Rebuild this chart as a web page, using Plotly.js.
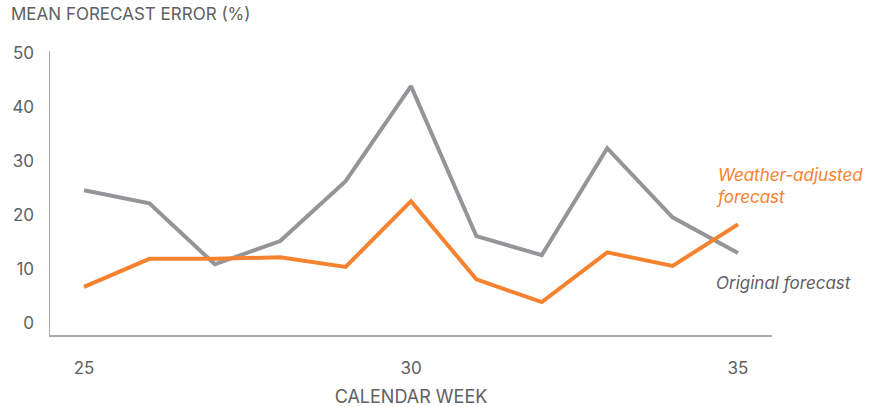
<!DOCTYPE html>
<html><head><meta charset="utf-8">
<script src="https://cdn.plot.ly/plotly-3.0.1.min.js"></script>
<style>html,body{margin:0;padding:0;background:#fff}#c{width:878px;height:407px}</style>
</head><body><div id="c"></div>
<script>
const weeks = [25,26,27,28,29,30,31,32,33,34,35];
const original = [24.6,22.2,10.9,15.2,26.3,43.9,16.1,12.6,32.4,19.6,13.0];
const adjusted = [6.7,11.9,11.9,12.2,10.4,22.6,8.1,3.9,13.1,10.6,18.3];
const xTicks = [25,30,35];
const yTicks = [0,10,20,30,40,50];
const txt = '#5f6062';
const font = 'Inter, "Noto Sans", sans-serif';
const data = [
  {x: weeks, y: original, type:'scatter', mode:'lines', line:{color:'#939598', width:4}, hoverinfo:'skip'},
  {x: weeks, y: adjusted, type:'scatter', mode:'lines', line:{color:'#F5822F', width:4}, hoverinfo:'skip'}
];
const layout = {
  width:878, height:407, showlegend:false,
  paper_bgcolor:'#fff', plot_bgcolor:'#fff',
  margin:{l:50, r:106, t:51, b:72},
  font:{family:font, color:txt, size:17},
  xaxis:{range:[24.48,35.52], tickvals:xTicks, ticktext:xTicks.map(String), showgrid:false, zeroline:false,
    showline:true, linecolor:'#a7a9ac', linewidth:1.5, ticks:'', ticklabelstandoff:17,
    tickfont:{size:17, color:txt},
    title:{text:'CALENDAR WEEK', font:{size:18, color:txt}, standoff:14}},
  yaxis:{range:[-2.2,50.4], tickvals:yTicks, showgrid:false, zeroline:false,
    showline:true, linecolor:'#a7a9ac', linewidth:1.5, ticks:'', ticklabelstandoff:11,
    tickfont:{size:17, color:txt}},
  annotations:[
    {xref:'paper', yref:'paper', x:-0.057, y:1.0, yshift:25, xanchor:'left', yanchor:'bottom', showarrow:false,
     text:'MEAN FORECAST ERROR (%)', font:{size:17, color:txt}},
    {xref:'x', yref:'y', x:34.64, y:25.4, xanchor:'left', yanchor:'middle', align:'left', showarrow:false,
     text:'<i>Weather-adjusted<br>forecast</i>', font:{size:17, color:'#F5822F'}},
    {xref:'x', yref:'y', x:34.64, y:7.4, xanchor:'left', yanchor:'middle', align:'left', showarrow:false,
     text:'<i>Original forecast</i>', font:{size:17, color:txt}}
  ]
};
Plotly.newPlot('c', data, layout, {displayModeBar:false, staticPlot:true});
</script></body></html>
